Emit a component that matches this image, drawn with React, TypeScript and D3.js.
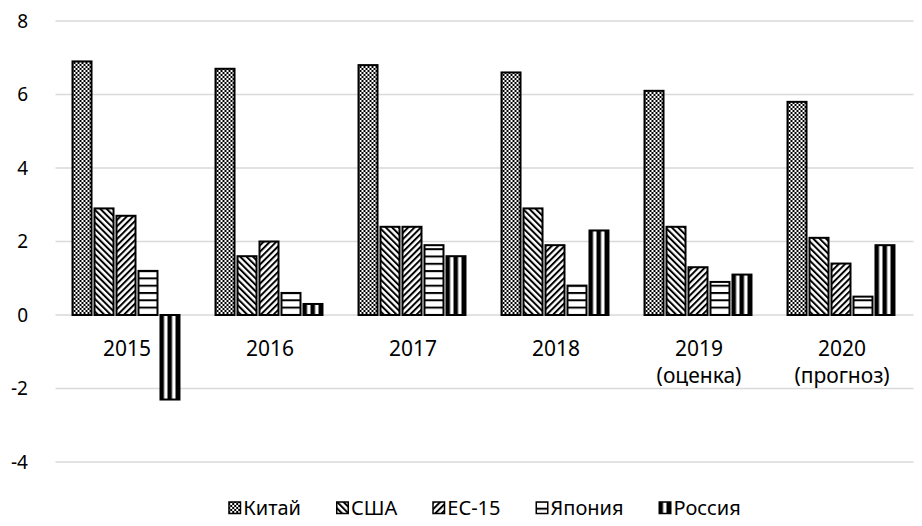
import React, { useEffect, useRef } from 'react';
import * as d3 from 'd3';

// Chart data
const years: string[][] = [['2015'], ['2016'], ['2017'], ['2018'], ['2019', '(оценка)'], ['2020', '(прогноз)']];
const seriesNames = ['Китай', 'США', 'ЕС-15', 'Япония', 'Россия'];
const china = [6.9, 6.7, 6.8, 6.6, 6.1, 5.8];
const usa = [2.9, 1.6, 2.4, 2.9, 2.4, 2.1];
const eu15 = [2.7, 2.0, 2.4, 1.9, 1.3, 1.4];
const japan = [1.2, 0.6, 1.9, 0.8, 0.9, 0.5];
const russia = [-2.3, 0.3, 1.6, 2.3, 1.1, 1.9];
const yTicks = [-4, -2, 0, 2, 4, 6, 8];

const seriesValues = [china, usa, eu15, japan, russia];
const patternIds = ['p-china', 'p-usa', 'p-eu', 'p-japan', 'p-russia'];

const W = 922;
const H = 526;
const FONT = '"Noto Sans", "Open Sans", sans-serif';

const GrowthChart: React.FC = () => {
  const svgRef = useRef<SVGSVGElement>(null);

  useEffect(() => {
    document.body.style.margin = '0';
    const svgEl = svgRef.current;
    if (!svgEl) return;
    const svg = d3.select(svgEl);
    svg.selectAll('*').remove();

    // Patterns
    const defs = svg.append('defs');
    const checker = defs.append('pattern').attr('id', 'p-china').attr('patternUnits', 'userSpaceOnUse')
      .attr('width', 4).attr('height', 4);
    checker.append('rect').attr('width', 4).attr('height', 4).attr('fill', '#fff');
    checker.append('rect').attr('width', 2).attr('height', 2).attr('fill', '#000');
    checker.append('rect').attr('x', 2).attr('y', 2).attr('width', 2).attr('height', 2).attr('fill', '#000');

    const diag = (id: string, angle: number) => {
      const p = defs.append('pattern').attr('id', id).attr('patternUnits', 'userSpaceOnUse')
        .attr('width', 4.5).attr('height', 10).attr('patternTransform', `rotate(${angle})`);
      p.append('rect').attr('width', 4.5).attr('height', 10).attr('fill', '#fff');
      p.append('rect').attr('width', 2).attr('height', 10).attr('fill', '#000');
    };
    diag('p-usa', -45);
    diag('p-eu', 45);

    const horiz = defs.append('pattern').attr('id', 'p-japan').attr('patternUnits', 'userSpaceOnUse')
      .attr('width', 10).attr('height', 7.3);
    horiz.append('rect').attr('width', 10).attr('height', 7.3).attr('fill', '#fff');
    horiz.append('rect').attr('width', 10).attr('height', 2).attr('fill', '#000');

    const vert = defs.append('pattern').attr('id', 'p-russia').attr('patternUnits', 'userSpaceOnUse')
      .attr('width', 8).attr('height', 10);
    vert.append('rect').attr('width', 8).attr('height', 10).attr('fill', '#fff');
    vert.append('rect').attr('width', 4.5).attr('height', 10).attr('fill', '#000');

    // Scales
    const x = d3.scaleBand<number>().domain(d3.range(years.length)).range([55.5, 913.5]).padding(0);
    const band = x.bandwidth();
    const xInner = d3.scaleBand<number>().domain(d3.range(seriesNames.length))
      .range([band * 0.119, band * 0.867]).paddingInner(0.136).paddingOuter(0);
    const y = d3.scaleLinear().domain([-4, 8]).range([462, 21]);

    // Grid
    svg.append('g').selectAll('line').data(yTicks).join('line')
      .attr('x1', 55.5).attr('x2', 913.5)
      .attr('y1', (d) => y(d)).attr('y2', (d) => y(d))
      .attr('stroke', '#d9d9d9').attr('stroke-width', 1.5);

    svg.append('g').selectAll('text').data(yTicks).join('text')
      .attr('x', 28).attr('y', (d) => y(d)).attr('dy', '0.35em')
      .attr('text-anchor', 'end').attr('font-family', FONT).attr('font-size', 19).attr('fill', '#000')
      .text((d) => String(d));

    // Bars
    const groups = svg.append('g').selectAll('g').data(years).join('g')
      .attr('transform', (_, i) => `translate(${x(i)},0)`);
    groups.selectAll('rect').data((_, i) => seriesValues.map((s, k) => ({ k, v: s[i] }))).join('rect')
      .attr('x', (d) => xInner(d.k)! + 0)
      .attr('width', xInner.bandwidth())
      .attr('y', (d) => y(Math.max(0, d.v)))
      .attr('height', (d) => Math.abs(y(d.v) - y(0)))
      .attr('fill', (d) => `url(#${patternIds[d.k]})`)
      .attr('stroke', '#000').attr('stroke-width', 2);

    // Category labels
    groups.each(function (lines) {
      const t = d3.select(this).append('text')
        .attr('text-anchor', 'middle').attr('font-family', FONT).attr('font-size', 21).attr('fill', '#000');
      lines.forEach((line, li) => {
        t.append('tspan').attr('x', band / 2).attr('y', 356 + li * 27).text(line);
      });
    });

    // Legend
    const legend = svg.append('g');
    let cx = 0;
    seriesNames.forEach((name, k) => {
      const g = legend.append('g').attr('transform', `translate(${cx},0)`);
      g.append('rect').attr('x', 0.75).attr('y', -13).attr('width', 11.5).attr('height', 11.5)
        .attr('fill', `url(#${patternIds[k]})`).attr('stroke', '#000').attr('stroke-width', 1.5);
      const t = g.append('text').attr('x', 15).attr('y', 0).attr('font-family', FONT).attr('font-size', 20)
        .attr('fill', '#000').text(name);
      const w = (t.node() as SVGTextElement).getComputedTextLength();
      cx += 15 + w + 35;
    });
    const total = cx - 35;
    legend.attr('transform', `translate(${(55.5 + 913.5) / 2 - total / 2},515)`);
  }, []);

  return <svg ref={svgRef} width={W} height={H} style={{ display: 'block', background: '#fff' }} />;
};

export default function App() {
  return <GrowthChart />;
}
